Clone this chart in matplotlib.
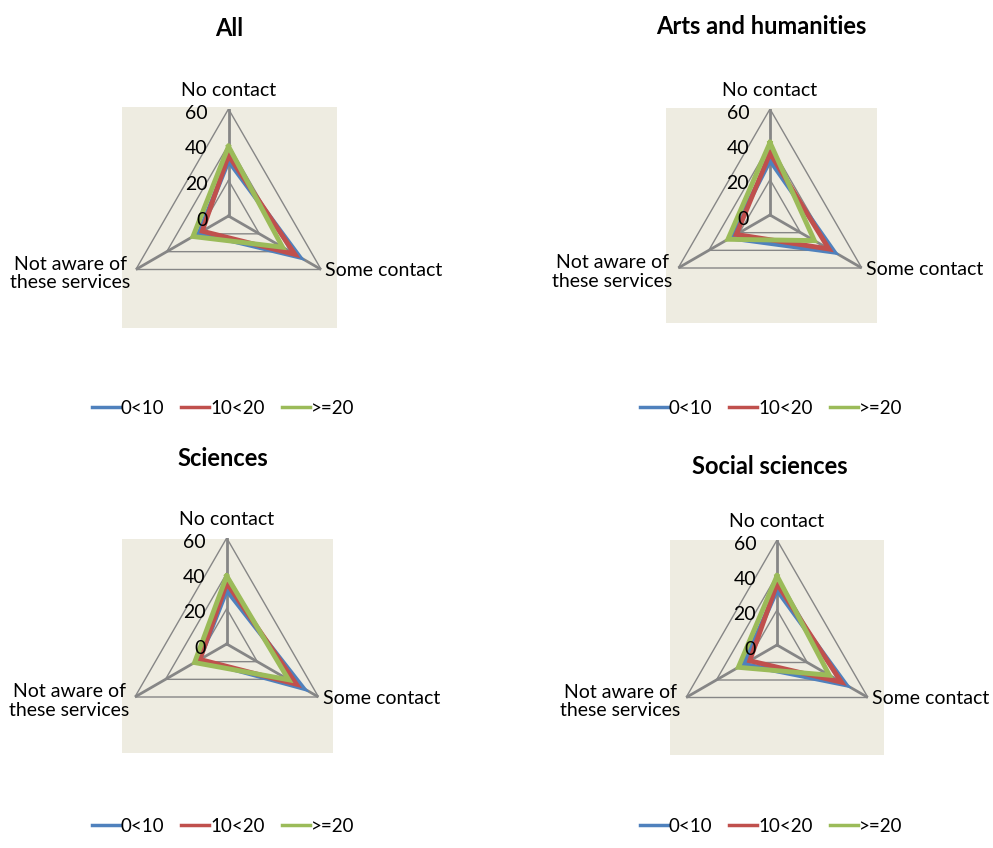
import numpy as np
import matplotlib
matplotlib.use('Agg')
import matplotlib.pyplot as plt
from matplotlib.patches import Rectangle

plt.rcParams['font.family'] = ['Lato', 'DejaVu Sans']

# categories (clockwise from top) and series
categories = ['No contact', 'Some contact', 'Not aware of\nthese services']
series_names = ['0<10', '10<20', '>=20']
colors = ['#4F81BD', '#C0504D', '#9BBB59']
ticks = [0, 20, 40, 60]

titles = ['All', 'Arts and humanities', 'Sciences', 'Social sciences']

# values per chart: one list per series [no contact, some contact, not aware]
all_vals = [[31, 46, 19], [34, 43, 17], [39, 35, 23]]
arts_vals = [[31, 42, 26], [35, 38.5, 22], [41, 29, 27.5]]
sci_vals = [[30.5, 50, 18], [34.5, 45.5, 17.5], [38.5, 40.5, 21]]
soc_vals = [[31.5, 45.5, 22], [35, 42.5, 18], [39.5, 34.5, 25.5]]
chart_vals = [all_vals, arts_vals, sci_vals, soc_vals]

W, H = 993, 848
fig = plt.figure(figsize=(W / 100, H / 100), dpi=100)

# layout in pixels: centre, radius, background box, title pos, legend pos
layout = [
    dict(c=(228.5, 216), r=107, bg=(122, 107, 337, 328), t=(229, 29), leg=(223, 408)),
    dict(c=(770, 215), r=106, bg=(666, 108, 877, 323), t=(761, 27), leg=(771, 408)),
    dict(c=(226.7, 644), r=106, bg=(122, 539, 333, 753), t=(223, 459), leg=(223, 826)),
    dict(c=(777, 645), r=105, bg=(670, 540, 884, 755), t=(770, 466), leg=(771, 826)),
]

angles = np.deg2rad([0, 120, 240])
closed = np.append(angles, angles[0])
grid_col = '#868686'

for title, vals, lay in zip(titles, chart_vals, layout):
    cx, cy = lay['c']
    R = lay['r']
    x0, y0, x1, y1 = lay['bg']
    fig.add_artist(Rectangle((x0 / W, 1 - y1 / H), (x1 - x0) / W, (y1 - y0) / H,
                             transform=fig.transFigure, facecolor='#EEECE1',
                             edgecolor='none', zorder=-5))
    ax = fig.add_axes([(cx - R) / W, 1 - (cy + R) / H, 2 * R / W, 2 * R / H],
                      projection='polar')
    ax.set_facecolor('none')
    ax.set_theta_zero_location('N')
    ax.set_theta_direction(-1)
    ax.set_ylim(0, 60)
    ax.grid(False)
    ax.spines['polar'].set_visible(False)
    ax.set_xticks([])
    ax.set_yticks([])

    # triangular gridlines and spokes
    for t in ticks[1:]:
        ax.plot(closed, [t] * 4, color=grid_col, lw=1.0, zorder=1)
    for a in angles:
        ax.plot([a, a], [0, 60], color=grid_col, lw=2.0, zorder=1)

    lines = []
    for name, v, col in zip(series_names, vals, colors):
        ln, = ax.plot(closed, v + [v[0]], color=col, lw=3.5, label=name,
                      solid_joinstyle='miter', zorder=3)
        lines.append(ln)

    for t in ticks:
        ax.annotate(str(t), xy=(0, t), xytext=(-15, -3), textcoords='offset points',
                    ha='right', va='center', fontsize=14, annotation_clip=False)

    ax.annotate(categories[0], xy=(angles[0], 60), xytext=(0, 13),
                textcoords='offset points', ha='center', va='center',
                fontsize=14, annotation_clip=False)
    ax.annotate(categories[1], xy=(angles[1], 60), xytext=(3, -1),
                textcoords='offset points', ha='left', va='center',
                fontsize=14, annotation_clip=False)
    ax.annotate(categories[2], xy=(angles[2], 60), xytext=(-4, -3),
                textcoords='offset points', ha='right', va='center',
                multialignment='center', fontsize=14, annotation_clip=False,
                linespacing=1.1)

    fig.text(lay['t'][0] / W, 1 - lay['t'][1] / H, title, ha='center', va='center',
             fontsize=17, fontweight='bold')

    leg = fig.legend(handles=lines, loc='center', ncol=3, frameon=False, fontsize=13.5,
                     bbox_to_anchor=(lay['leg'][0] / W, 1 - lay['leg'][1] / H),
                     handlelength=1.5, handletextpad=0.05, columnspacing=0.9)
    for hl in leg.get_lines():
        hl.set_linewidth(2.5)

fig.savefig('out.png', dpi=100)
